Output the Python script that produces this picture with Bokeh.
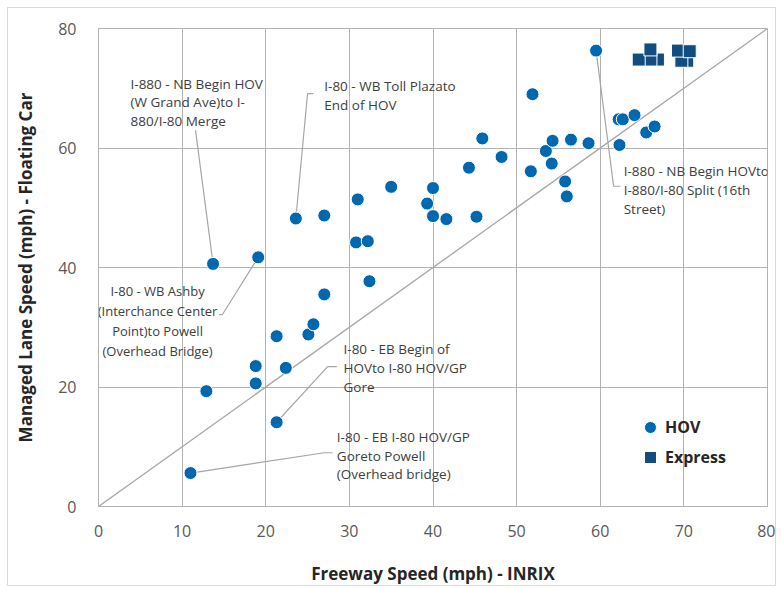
from bokeh.plotting import figure
from bokeh.models import Range1d, FixedTicker, Legend, LegendItem, Title
from bokeh.core.properties import value
from bokeh.embed import file_html
from bokeh.resources import INLINE

# ---- data ----
hov_x = [11.0, 12.9, 13.7, 19.1, 18.8, 18.8, 21.3, 21.3, 22.4, 25.1, 25.7, 27.0,
         23.6, 27.0, 31.0, 30.8, 32.2, 32.4, 35.0, 39.3, 40.0, 40.0, 41.6, 44.3,
         45.2, 45.9, 48.2, 51.9, 51.7, 53.5, 54.3, 54.2, 55.8, 56.0, 56.5, 58.6,
         59.5, 62.3, 62.2, 62.7, 64.1, 65.5, 66.5]
hov_y = [5.6, 19.3, 40.6, 41.7, 23.5, 20.6, 14.1, 28.5, 23.2, 28.8, 30.5, 35.5,
         48.2, 48.7, 51.4, 44.2, 44.4, 37.7, 53.5, 50.7, 53.3, 48.6, 48.1, 56.7,
         48.5, 61.6, 58.5, 69.0, 56.1, 59.5, 61.2, 57.4, 54.4, 51.9, 61.4, 60.8,
         76.3, 60.5, 64.8, 64.8, 65.5, 62.6, 63.6]

express_x = [66.9, 66.0, 64.6, 66.0, 70.4, 69.7, 69.3, 70.7]
express_y = [74.8, 74.8, 74.8, 76.5, 74.6, 74.6, 76.3, 76.2]

x_ticks = [0, 10, 20, 30, 40, 50, 60, 70, 80]
y_ticks = [0, 20, 40, 60, 80]

ann_left_text = [
    "I-880 - NB Begin HOV\n(W Grand Ave)to I-\n880/I-80 Merge",
    "I-80 - WB Toll Plazato\nEnd of HOV",
    "I-880 - NB Begin HOVto\nI-880/I-80 Split (16th\nStreet)",
    "I-80 - EB Begin of\nHOVto I-80 HOV/GP\nGore",
    "I-80 - EB I-80 HOV/GP\nGoreto Powell\n(Overhead bridge)",
]
ann_left_x = [3.83, 27.0, 62.8, 29.3, 28.5]
ann_left_y = [72.3, 71.8, 57.6, 27.8, 13.2]

ann_center_text = ["I-80 - WB Ashby\n(Interchance Center\nPoint)to Powell\n(Overhead Bridge)"]
ann_center_x = [7.06]
ann_center_y = [37.5]

leader_xs = [[13.7, 11.6], [23.6, 25.0, 25.7], [59.5, 61.6, 62.4],
             [19.1, 14.8, 14.4], [21.3, 27.4, 28.5], [11.0, 27.0, 28.0]]
leader_ys = [[40.6, 63.0], [48.2, 69.1, 69.1], [76.3, 53.6, 53.6],
             [41.7, 32.1, 32.1], [14.1, 23.4, 23.4], [5.6, 9.0, 9.0]]

x_title = "Freeway Speed (mph) - INRIX"
y_title = "Managed Lane Speed (mph) - Floating Car"

GRID = "#b3b3b3"
TXT = "#404040"

p = figure(width=769, height=579, x_range=Range1d(0, 80), y_range=Range1d(0, 80),
           output_backend="svg", toolbar_location=None,
           min_border_left=90, min_border_right=10, min_border_top=20, min_border_bottom=81)
p.styles = {"margin-left": "7px", "margin-top": "7px", "border": "1px solid #d9d9d9"}
p.outline_line_color = GRID
p.background_fill_color = "white"

for ax, ticks in ((p.xaxis, x_ticks), (p.yaxis, y_ticks)):
    ax.ticker = FixedTicker(ticks=ticks)
    ax.axis_line_color = GRID
    ax.major_tick_line_color = None
    ax.minor_tick_line_color = None
    ax.major_label_text_font = "Open Sans"
    ax.major_label_text_font_size = "16px"
    ax.major_label_text_color = "#595959"
p.xaxis.major_label_standoff = 12
p.yaxis.major_label_standoff = 16

p.xaxis.axis_label = x_title
p.xaxis.axis_label_standoff = 22
p.xaxis.axis_label_text_font = "Open Sans"
p.xaxis.axis_label_text_font_size = "17px"
p.xaxis.axis_label_text_font_style = "bold"
p.xaxis.axis_label_text_color = "#262626"

# blank spacer label widens the y-axis panel so the title sits further left
p.yaxis.axis_label = "\u00a0"
p.yaxis.axis_label_standoff = 0
p.yaxis.axis_label_text_font_size = "8px"

p.add_layout(Title(text=y_title, align="center", offset=80, standoff=10,
                   vertical_align="top",
                   text_font="Open Sans", text_font_size="17px", text_font_style="bold",
                   text_color="#262626"), "left")

p.xgrid.ticker = FixedTicker(ticks=x_ticks)
p.ygrid.ticker = FixedTicker(ticks=y_ticks)
p.xgrid.grid_line_color = GRID
p.ygrid.grid_line_color = GRID

# diagonal reference line
p.line(x=[0, 80], y=[0, 80], line_color="#a6a6a6", line_width=1.3)

# leader lines
p.multi_line(xs=leader_xs, ys=leader_ys, line_color="#a6a6a6", line_width=1.2)

r_hov = p.scatter(hov_x, hov_y, marker="circle", size=13, fill_color="#0068AE",
                  line_color="white", line_width=1)
r_exp = p.scatter(express_x, express_y, marker="square", size=13, fill_color="#114D7E",
                  line_color="white", line_width=1)

p.text(x=ann_left_x, y=ann_left_y, text=ann_left_text, text_align="left",
       text_baseline="top", text_font=value("Open Sans"), text_font_size="13.5px",
       text_color=TXT, text_line_height=1.05)
p.text(x=ann_center_x, y=ann_center_y, text=ann_center_text, text_align="center",
       text_baseline="top", text_font=value("Open Sans"), text_font_size="13px",
       text_color=TXT, text_line_height=1.1)

legend = Legend(items=[LegendItem(label="HOV", renderers=[r_hov]),
                       LegendItem(label="Express", renderers=[r_exp])],
                location=(537, 34), padding=0, margin=0, spacing=0,
                glyph_width=30, glyph_height=30, label_height=30, label_standoff=0,
                label_text_font="Open Sans", label_text_font_size="16px",
                label_text_font_style="bold", label_text_color="#262626",
                background_fill_alpha=0, border_line_alpha=0)
p.add_layout(legend)

open("out.html", "w").write(file_html(p, INLINE))
